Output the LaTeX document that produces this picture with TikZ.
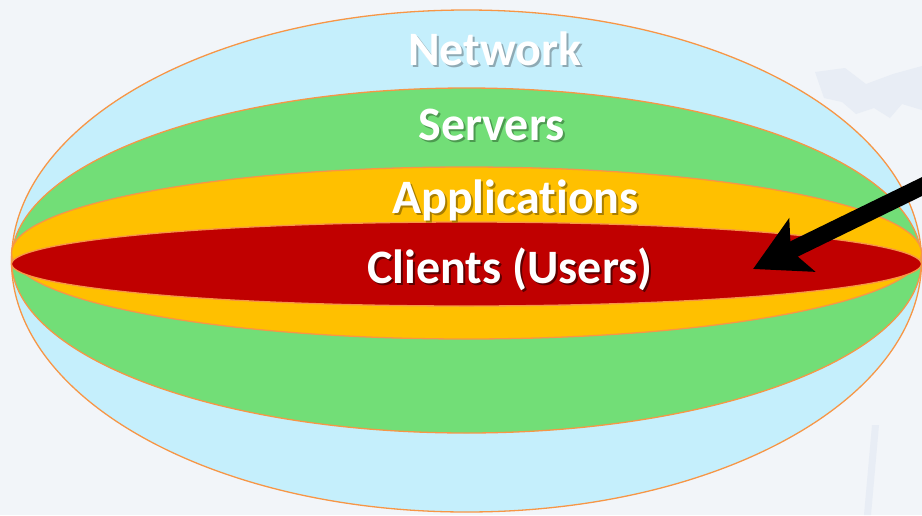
\documentclass[tikz,border=0pt]{standalone}
\usepackage{fontspec}
\setmainfont{Carlito}[Ligatures={NoCommon}]
\usetikzlibrary{arrows.meta}
\definecolor{bgc}{HTML}{F2F5F9}
\definecolor{wmc}{HTML}{E8EDF5}
\definecolor{netc}{HTML}{C5EFFC}
\definecolor{srvc}{HTML}{72DE77}
\definecolor{appc}{HTML}{FFC000}
\definecolor{clic}{HTML}{C00000}
\definecolor{edgec}{HTML}{F79646}
\definecolor{netsh}{HTML}{8FAAB4}
\definecolor{srvsh}{HTML}{4C9A50}
\definecolor{appsh}{HTML}{A87E00}
\definecolor{clish}{HTML}{5A0000}
\newcommand{\shtext}[2]{\makebox[0pt][l]{\raisebox{-2pt}{\hspace{2pt}\textcolor{#1}{#2}}}#2}
\tikzset{
  layer/.style={draw=edgec, line width=1.3pt},
  lbl/.style={font=\fontsize{48}{54}\selectfont\bfseries, text=white, inner sep=0pt, anchor=base},
  pointer/.style={line width=17pt, draw=black, -{Stealth[length=54pt,width=58pt,inset=12pt]}}
}
\begin{document}
\begin{tikzpicture}[x=1pt,y=-1pt]
\useasboundingbox (0,0) rectangle (922,515);
\fill[bgc] (0,0) rectangle (922,515);
\clip (0,0) rectangle (922,515);
% faint watermark
\fill[wmc] (815,72) -- (845,68) -- (866,84) -- (893,74) -- (922,66) -- (922,110) -- (902,104) -- (890,118) -- (874,108) -- (856,114) -- (842,102) -- (824,98) -- cycle;
\fill[wmc] (864,515) -- (872,425) -- (879,425) -- (871,515) -- cycle;
% layers
\path[layer, fill=netc] (466.5,261) ellipse [x radius=455, y radius=251];
\path[layer, fill=srvc] (466.5,260.5) ellipse [x radius=455, y radius=172.5];
\path[layer, fill=appc] (466.5,253) ellipse [x radius=455, y radius=86];
\path[layer, fill=clic] (466.5,264) ellipse [x radius=455, y radius=42];
% labels
\node[lbl] (net) at (495,65) {\shtext{netsh}{Network}};
\node[lbl] (srv) at (491.5,140) {\shtext{srvsh}{Servers}};
\node[lbl] (app) at (515.5,213) {\shtext{appsh}{Applications}};
\node[lbl] (cli) at (510,283) {\shtext{clish}{Clients (Users)}};
% arrow
\coordinate (src) at (960,168);
\coordinate (tip) at (753,269);
\draw[pointer] (src) -- (tip);
\end{tikzpicture}
\end{document}
